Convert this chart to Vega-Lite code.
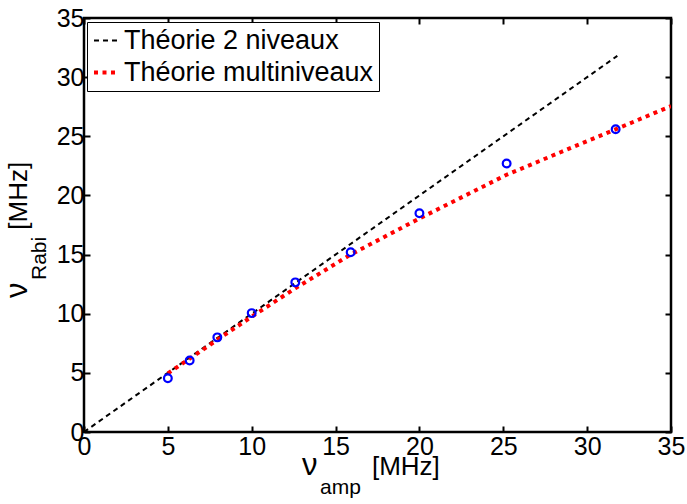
{
  "$schema": "https://vega.github.io/schema/vega-lite/v6.json",
  "width": 587,
  "height": 414,
  "autosize": "none",
  "padding": {"left": 84, "top": 18, "right": 16, "bottom": 72},
  "background": "white",
  "datasets": {
    "theory": [
      {"series": "Théorie 2 niveaux", "x": 0, "y": 0},
      {"series": "Théorie 2 niveaux", "x": 31.8, "y": 31.8},
      {"series": "Théorie multiniveaux", "x": 5, "y": 4.95},
      {"series": "Théorie multiniveaux", "x": 6.3, "y": 6.2},
      {"series": "Théorie multiniveaux", "x": 8, "y": 7.85},
      {"series": "Théorie multiniveaux", "x": 10, "y": 9.75},
      {"series": "Théorie multiniveaux", "x": 12.6, "y": 12.15},
      {"series": "Théorie multiniveaux", "x": 15.9, "y": 15.0},
      {"series": "Théorie multiniveaux", "x": 20, "y": 18.05},
      {"series": "Théorie multiniveaux", "x": 25.2, "y": 21.75},
      {"series": "Théorie multiniveaux", "x": 31.8, "y": 25.65},
      {"series": "Théorie multiniveaux", "x": 35, "y": 27.55}
    ],
    "measured": [
      {"x": 5.0, "y": 4.55},
      {"x": 6.3, "y": 6.05},
      {"x": 7.95, "y": 8.0},
      {"x": 10.0, "y": 10.05},
      {"x": 12.6, "y": 12.65},
      {"x": 15.9, "y": 15.2},
      {"x": 20.0, "y": 18.5},
      {"x": 25.2, "y": 22.7},
      {"x": 31.7, "y": 25.6}
    ]
  },
  "layer": [
    {
      "data": {"name": "theory"},
      "mark": {"type": "line", "clip": true},
      "encoding": {
        "x": {"field": "x", "type": "quantitative",
              "scale": {"domain": [0, 35], "nice": false, "zero": false},
              "axis": {"orient": "bottom", "title": null, "labelPadding": 8, "values": [0, 5, 10, 15, 20, 25, 30, 35]}},
        "y": {"field": "y", "type": "quantitative",
              "scale": {"domain": [0, 35], "nice": false, "zero": false},
              "axis": {"orient": "left", "title": null, "labelPadding": 6, "values": [0, 5, 10, 15, 20, 25, 30, 35]}},
        "color": {"field": "series", "type": "nominal",
                  "scale": {"domain": ["Théorie 2 niveaux", "Théorie multiniveaux"], "range": ["#000000", "#ff0000"]},
                  "legend": {"title": null}},
        "strokeDash": {"field": "series", "type": "nominal",
                  "scale": {"domain": ["Théorie 2 niveaux", "Théorie multiniveaux"], "range": [[5, 4], [4, 4.5]]},
                  "legend": {"title": null}},
        "strokeWidth": {"field": "series", "type": "nominal",
                  "scale": {"domain": ["Théorie 2 niveaux", "Théorie multiniveaux"], "range": [2, 4]},
                  "legend": {"title": null}},
        "order": {"field": "x", "type": "quantitative"}
      }
    },
    {
      "data": {"name": "measured"},
      "mark": {"type": "point", "shape": "circle", "filled": false, "color": "#0000ff", "size": 60, "strokeWidth": 2.2, "opacity": 1},
      "encoding": {
        "x": {"field": "x", "type": "quantitative",
              "scale": {"domain": [0, 35], "nice": false, "zero": false},
              "axis": {"orient": "top", "title": null, "labels": false, "values": [0, 5, 10, 15, 20, 25, 30, 35]}},
        "y": {"field": "y", "type": "quantitative",
              "scale": {"domain": [0, 35], "nice": false, "zero": false},
              "axis": {"orient": "right", "title": null, "labels": false, "values": [0, 5, 10, 15, 20, 25, 30, 35]}}
      }
    },
    {
      "data": {"values": [{"t": "ν"}]},
      "mark": {"type": "text", "align": "left", "baseline": "alphabetic", "font": "Liberation Sans", "fontSize": 31, "color": "black"},
      "encoding": {
        "text": {"field": "t"},
        "x": {"datum": 13.0, "type": "quantitative", "axis": null, "scale": {"domain": [0, 35], "nice": false, "zero": false}},
        "y": {"datum": -3.63, "type": "quantitative", "axis": null, "scale": {"domain": [0, 35], "nice": false, "zero": false}}
      }
    },
    {
      "data": {"values": [{"t": "amp"}]},
      "mark": {"type": "text", "align": "left", "baseline": "alphabetic", "font": "Liberation Sans", "fontSize": 21, "color": "black"},
      "encoding": {
        "text": {"field": "t"},
        "x": {"datum": 14.07, "type": "quantitative", "axis": null, "scale": {"domain": [0, 35], "nice": false, "zero": false}},
        "y": {"datum": -5.24, "type": "quantitative", "axis": null, "scale": {"domain": [0, 35], "nice": false, "zero": false}}
      }
    },
    {
      "data": {"values": [{"t": "[MHz]"}]},
      "mark": {"type": "text", "align": "left", "baseline": "alphabetic", "font": "Liberation Sans", "fontSize": 26, "color": "black"},
      "encoding": {
        "text": {"field": "t"},
        "x": {"datum": 17.17, "type": "quantitative", "axis": null, "scale": {"domain": [0, 35], "nice": false, "zero": false}},
        "y": {"datum": -3.63, "type": "quantitative", "axis": null, "scale": {"domain": [0, 35], "nice": false, "zero": false}}
      }
    },
    {
      "data": {"values": [{"t": "ν"}]},
      "mark": {"type": "text", "align": "left", "baseline": "alphabetic", "angle": 270, "font": "Liberation Sans", "fontSize": 31, "color": "black"},
      "encoding": {
        "text": {"field": "t"},
        "x": {"datum": -3.4, "type": "quantitative", "axis": null, "scale": {"domain": [0, 35], "nice": false, "zero": false}},
        "y": {"datum": 11.33, "type": "quantitative", "axis": null, "scale": {"domain": [0, 35], "nice": false, "zero": false}}
      }
    },
    {
      "data": {"values": [{"t": "Rabi"}]},
      "mark": {"type": "text", "align": "left", "baseline": "alphabetic", "angle": 270, "font": "Liberation Sans", "fontSize": 21, "color": "black"},
      "encoding": {
        "text": {"field": "t"},
        "x": {"datum": -2.27, "type": "quantitative", "axis": null, "scale": {"domain": [0, 35], "nice": false, "zero": false}},
        "y": {"datum": 12.85, "type": "quantitative", "axis": null, "scale": {"domain": [0, 35], "nice": false, "zero": false}}
      }
    },
    {
      "data": {"values": [{"t": "[MHz]"}]},
      "mark": {"type": "text", "align": "left", "baseline": "alphabetic", "angle": 270, "font": "Liberation Sans", "fontSize": 26, "color": "black"},
      "encoding": {
        "text": {"field": "t"},
        "x": {"datum": -3.4, "type": "quantitative", "axis": null, "scale": {"domain": [0, 35], "nice": false, "zero": false}},
        "y": {"datum": 17.1, "type": "quantitative", "axis": null, "scale": {"domain": [0, 35], "nice": false, "zero": false}}
      }
    }
  ],
  "resolve": {"axis": {"x": "independent", "y": "independent"}},
  "config": {
    "view": {"stroke": "black", "strokeWidth": 2.5},
    "axis": {
      "domain": false,
      "grid": false,
      "ticks": true,
      "tickSize": -6,
      "tickWidth": 2,
      "tickColor": "black",
      "labelFont": "Liberation Sans",
      "labelFontSize": 25,
      "labelColor": "black",
      "labelPadding": 5,
      "labelFlush": false,
      "labelOverlap": false
    },
    "legend": {
      "orient": "none",
      "legendX": 3,
      "legendY": 4,
      "fillColor": "white",
      "strokeColor": "black",
      "padding": 5,
      "labelFont": "Liberation Sans",
      "labelFontSize": 27,
      "labelColor": "black",
      "labelLimit": 500,
      "labelOffset": 3,
      "symbolType": "stroke",
      "symbolSize": 625,
      "rowPadding": 4
    }
  }
}
